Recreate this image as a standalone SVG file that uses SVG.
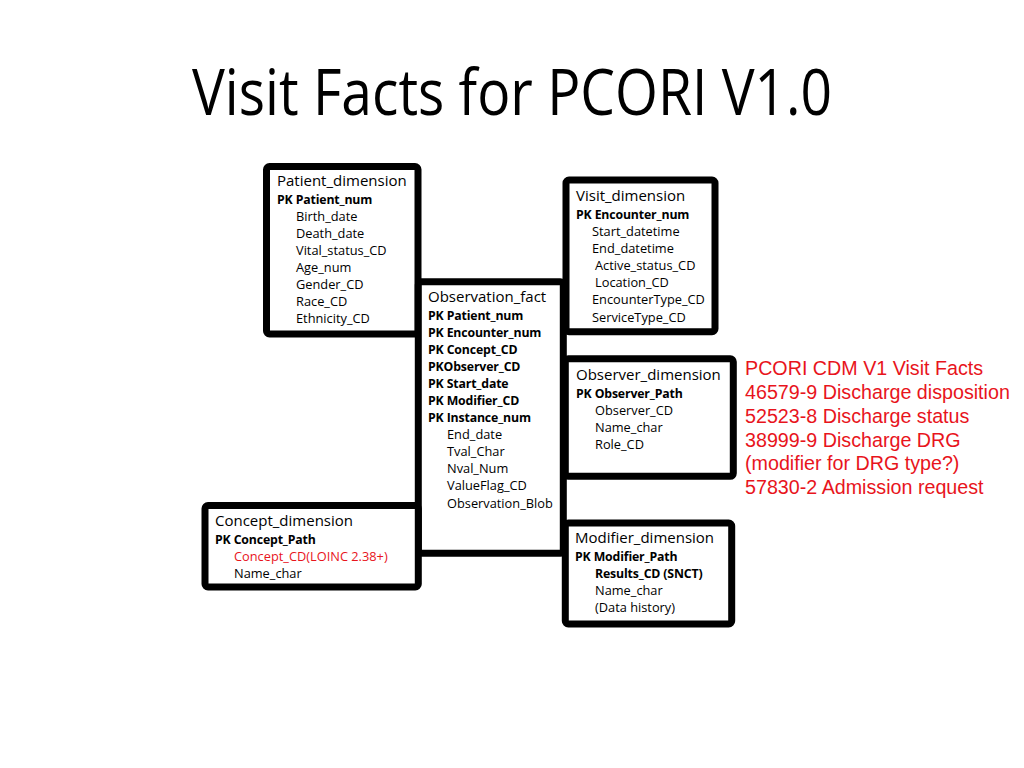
<svg xmlns="http://www.w3.org/2000/svg" width="1024" height="768" viewBox="0 0 1024 768">
<style>
.box{fill:#fff;stroke:#000;stroke-width:7}
.t{font-family:"Open Sans","Liberation Sans",sans-serif;font-size:15px;fill:#000}
.r{font-family:"Open Sans","Liberation Sans",sans-serif;font-size:12.8px;fill:#000}
.b{font-family:"Open Sans","Liberation Sans",sans-serif;font-size:12.3px;letter-spacing:-0.15px;font-weight:bold;fill:#000}
.red{fill:#e8141c}
.note{font-family:"Liberation Sans",Arial,sans-serif;font-size:19.7px;fill:#e8141c}
.title{font-family:"Open Sans","Liberation Sans",sans-serif;font-size:64px;fill:#000}
</style>
<rect width="1024" height="768" fill="#fff"/>
<text class="title" x="192" y="115" textLength="640" lengthAdjust="spacingAndGlyphs">Visit Facts for PCORI V1.0</text>
<g id="connectors"></g>
<g id="patient_dimension">
<rect class="box" x="266.5" y="166.5" width="151.5" height="167.5" rx="3"/>
<text class="t" x="277" y="186">Patient_dimension</text>
<text class="b" x="277" y="204">PK Patient_num</text>
<text class="r" x="296" y="221">Birth_date</text>
<text class="r" x="296" y="238">Death_date</text>
<text class="r" x="296" y="255">Vital_status_CD</text>
<text class="r" x="296" y="272">Age_num</text>
<text class="r" x="296" y="289">Gender_CD</text>
<text class="r" x="296" y="306">Race_CD</text>
<text class="r" x="296" y="323">Ethnicity_CD</text>
</g>
<g id="observation_fact">
<rect class="box" x="418.3" y="281.7" width="145" height="271.6" rx="3"/>
<text class="t" x="428" y="302">Observation_fact</text>
<text class="b" x="428" y="320">PK Patient_num</text>
<text class="b" x="428" y="337">PK Encounter_num</text>
<text class="b" x="428" y="354">PK Concept_CD</text>
<text class="b" x="428" y="371">PKObserver_CD</text>
<text class="b" x="428" y="388">PK Start_date</text>
<text class="b" x="428" y="405">PK Modifier_CD</text>
<text class="b" x="428" y="422">PK Instance_num</text>
<text class="r" x="447" y="439">End_date</text>
<text class="r" x="447" y="456">Tval_Char</text>
<text class="r" x="447" y="473">Nval_Num</text>
<text class="r" x="447" y="490">ValueFlag_CD</text>
<text class="r" x="447" y="508">Observation_Blob</text>
</g>
<g id="visit_dimension">
<rect class="box" x="566" y="180" width="149" height="151.7" rx="3"/>
<text class="t" x="576" y="201">Visit_dimension</text>
<text class="b" x="576" y="219">PK Encounter_num</text>
<text class="r" x="592" y="236">Start_datetime</text>
<text class="r" x="592" y="253">End_datetime</text>
<text class="r" x="595" y="270">Active_status_CD</text>
<text class="r" x="595" y="287">Location_CD</text>
<text class="r" x="592" y="304">EncounterType_CD</text>
<text class="r" x="592" y="322">ServiceType_CD</text>
</g>
<g id="observer_dimension">
<rect class="box" x="565.3" y="358.8" width="168" height="117.5" rx="3"/>
<text class="t" x="576" y="380">Observer_dimension</text>
<text class="b" x="576" y="398">PK Observer_Path</text>
<text class="r" x="595" y="415">Observer_CD</text>
<text class="r" x="595" y="432">Name_char</text>
<text class="r" x="595" y="449">Role_CD</text>
</g>
<g id="modifier_dimension">
<rect class="box" x="565.3" y="523" width="166.4" height="101" rx="3"/>
<text class="t" x="575" y="543">Modifier_dimension</text>
<text class="b" x="575" y="561">PK Modifier_Path</text>
<text class="b" x="595" y="578">Results_CD (SNCT)</text>
<text class="r" x="595" y="595">Name_char</text>
<text class="r" x="595" y="612">(Data history)</text>
</g>
<g id="concept_dimension">
<rect class="box" x="205" y="505.5" width="213.3" height="81.5" rx="3"/>
<text class="t" x="215" y="526">Concept_dimension</text>
<text class="b" x="215" y="544">PK Concept_Path</text>
<text class="r red" x="234" y="561">Concept_CD(LOINC 2.38+)</text>
<text class="r" x="234" y="578">Name_char</text>
</g>
<g id="notes">
<text class="note" x="745" y="375">PCORI CDM V1 Visit Facts</text>
<text class="note" x="745" y="399">46579-9 Discharge disposition</text>
<text class="note" x="745" y="423">52523-8 Discharge status</text>
<text class="note" x="745" y="447">38999-9 Discharge DRG</text>
<text class="note" x="745" y="470">(modifier for DRG type?)</text>
<text class="note" x="745" y="494">57830-2 Admission request</text>
</g>
</svg>
